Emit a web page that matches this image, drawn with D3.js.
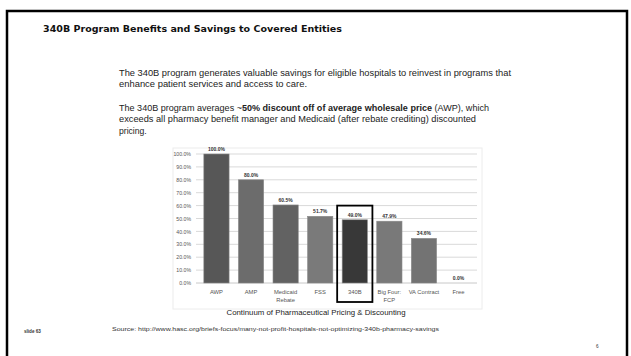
<!DOCTYPE html>
<html><head><meta charset="utf-8">
<script src="https://cdn.jsdelivr.net/npm/d3@7"></script>
<style>html,body{margin:0;padding:0;background:#fff;}svg{display:block;}</style>
</head><body>
<script>
const categories = ["AWP","AMP","Medicaid\nRebate","FSS","340B","Big Four:\nFCP","VA Contract","Free"];
const values = [100.0, 80.0, 60.5, 51.7, 49.0, 47.9, 34.6, 0.0];
const valueLabels = ["100.0%","80.0%","60.5%","51.7%","49.0%","47.9%","34.6%","0.0%"];
const yTicks = [0,10,20,30,40,50,60,70,80,90,100];
const highlight = "340B";
const barColors = ["#575757","#6c6c6c","#626262","#7a7a7a","#383838","#797979","#737373","#777777"];

const W = 631, H = 356;
const svg = d3.select("body").append("svg").attr("width", W).attr("height", H);
svg.append("rect").attr("width", W).attr("height", H).attr("fill", "#fff");

// slide frame
svg.append("rect").attr("x", 7).attr("y", 11).attr("width", 620).attr("height", 360)
  .attr("fill", "none").attr("stroke", "#000").attr("stroke-width", 2.5);

// title
svg.append("text").attr("x", 43).attr("y", 32)
  .attr("font-family", "DejaVu Sans").attr("font-weight", "bold").attr("font-size", 8.8)
  .attr("fill", "#111").attr("textLength", 299).attr("lengthAdjust", "spacingAndGlyphs")
  .text("340B Program Benefits and Savings to Covered Entities");

// paragraphs
const para = svg.append("g").attr("font-family", "Liberation Sans, Arial, sans-serif")
  .attr("font-size", 8.6).attr("fill", "#222");
function line(y, len, parts) {
  const t = para.append("text").attr("x", 119).attr("y", y);
  if (len) t.attr("textLength", len).attr("lengthAdjust", "spacingAndGlyphs");
  parts.forEach(p => t.append("tspan").attr("font-weight", p[1] ? "bold" : null).text(p[0]));
}
line(76, 392, [["The 340B program generates valuable savings for eligible hospitals to reinvest in programs that"]]);
line(87, 188, [["enhance patient services and access to care."]]);
line(111, 370, [["The 340B program averages ~"],["50% discount off of average wholesale price",1],[" (AWP), which"]]);
line(122, 357, [["exceeds all pharmacy benefit manager and Medicaid (after rebate crediting) discounted"]]);
line(134, null, [["pricing."]]);

// chart box
svg.append("rect").attr("x", 173).attr("y", 148).attr("width", 309).attr("height", 161)
  .attr("fill", "#fff").attr("stroke", "#ececec").attr("stroke-width", 1);

const y = d3.scaleLinear().domain([0, 100]).range([283, 154]);
const x = d3.scaleBand().domain(categories).range([199, 476]).paddingInner(0.27).paddingOuter(0.14);

// gridlines
svg.append("g").selectAll("line").data(yTicks.slice(1)).join("line")
  .attr("x1", 196).attr("x2", 477)
  .attr("y1", d => y(d)).attr("y2", d => y(d))
  .attr("stroke", "#d9d9d9").attr("stroke-width", 1);

// y axis labels
const yAxis = d3.axisLeft(y).tickValues(yTicks).tickFormat(d => d.toFixed(1) + "%").tickSize(0).tickPadding(0);
const ya = svg.append("g").attr("transform", "translate(191,0)").call(yAxis);
ya.select(".domain").remove();
ya.selectAll("text").attr("font-family", "Liberation Sans, Arial, sans-serif").attr("font-size", 5.2).attr("fill", "#555");

// baseline
svg.append("line").attr("x1", 196).attr("x2", 477).attr("y1", y(0)).attr("y2", y(0))
  .attr("stroke", "#c8c8c8").attr("stroke-width", 1);

// bars
svg.append("g").selectAll("rect").data(categories).join("rect")
  .attr("x", d => x(d)).attr("width", x.bandwidth())
  .attr("y", (d, i) => y(values[i])).attr("height", (d, i) => y(0) - y(values[i]))
  .attr("fill", (d, i) => barColors[i]).attr("stroke", "#8a8a8a").attr("stroke-width", 0.6);

// value labels
svg.append("g").selectAll("text").data(categories).join("text")
  .attr("x", d => x(d) + x.bandwidth() / 2).attr("y", (d, i) => y(values[i]) - 3)
  .attr("text-anchor", "middle").attr("font-family", "Liberation Sans, Arial, sans-serif")
  .attr("font-weight", "bold").attr("font-size", 5).attr("fill", "#333")
  .text((d, i) => valueLabels[i]);

// category labels
const cl = svg.append("g").selectAll("text").data(categories).join("text")
  .attr("x", d => x(d) + x.bandwidth() / 2).attr("y", 294)
  .attr("text-anchor", "middle").attr("font-family", "Liberation Sans, Arial, sans-serif")
  .attr("font-size", 5.8).attr("fill", "#555");
cl.each(function(d) {
  const parts = d.split("\n");
  const t = d3.select(this);
  parts.forEach((p, j) => t.append("tspan").attr("x", x(d) + x.bandwidth() / 2).attr("dy", j ? 7.5 : 0).text(p));
});

// highlight box around 340B
svg.append("rect").attr("x", x(highlight) - 5).attr("y", y(60))
  .attr("width", x.bandwidth() + 10).attr("height", 302 - y(60))
  .attr("fill", "none").attr("stroke", "#000").attr("stroke-width", 1.8);

// chart caption
svg.append("text").attr("x", 316).attr("y", 315).attr("text-anchor", "middle")
  .attr("font-family", "Liberation Sans, Arial, sans-serif").attr("font-size", 7.2).attr("fill", "#222")
  .attr("textLength", 179).attr("lengthAdjust", "spacingAndGlyphs")
  .text("Continuum of Pharmaceutical Pricing & Discounting");

// source
svg.append("text").attr("x", 112).attr("y", 331)
  .attr("font-family", "Liberation Sans, Arial, sans-serif").attr("font-size", 5.8).attr("fill", "#333")
  .attr("textLength", 327).attr("lengthAdjust", "spacingAndGlyphs")
  .text("Source: http://www.hasc.org/briefs-focus/many-not-profit-hospitals-not-optimizing-340b-pharmacy-savings");

// footer
svg.append("text").attr("x", 24).attr("y", 333)
  .attr("font-family", "Liberation Sans, Arial, sans-serif").attr("font-weight", "bold").attr("font-size", 4.6).attr("fill", "#333")
  .text("slide 63");
svg.append("text").attr("x", 596).attr("y", 348)
  .attr("font-family", "Liberation Sans, Arial, sans-serif").attr("font-size", 4.6).attr("fill", "#333")
  .text("6");
</script>
</body></html>
